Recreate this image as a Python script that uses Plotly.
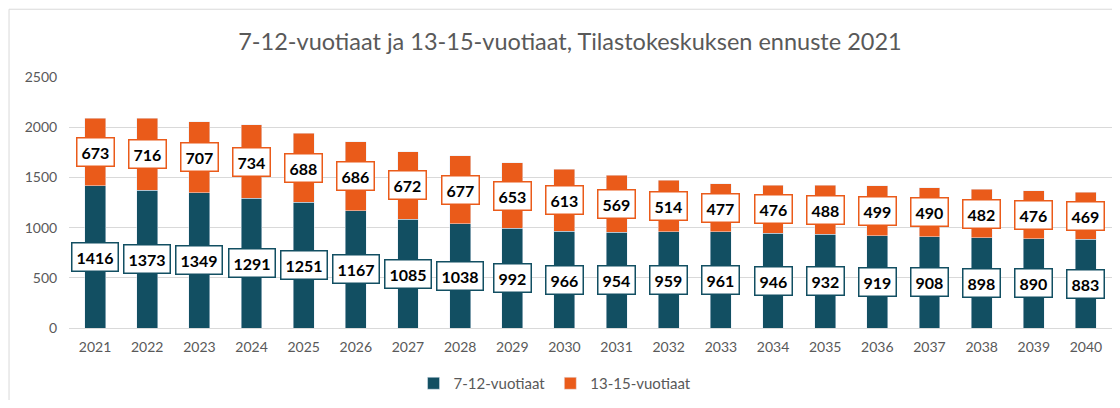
import plotly.graph_objects as go

years = list(range(2021, 2041))
kids_7_12 = [1416, 1373, 1349, 1291, 1251, 1167, 1085, 1038, 992, 966, 954, 959, 961, 946, 932, 919, 908, 898, 890, 883]
kids_13_15 = [673, 716, 707, 734, 688, 686, 672, 677, 653, 613, 569, 514, 477, 476, 488, 499, 490, 482, 476, 469]

teal = "#124F62"
orange = "#EA5B1A"
font_family = "Lato, Carlito, 'Open Sans', sans-serif"

fig = go.Figure()
fig.add_bar(x=years, y=kids_7_12, name="7-12-vuotiaat", marker_color=teal, width=0.4)
fig.add_bar(x=years, y=kids_13_15, name="13-15-vuotiaat", marker_color=orange, width=0.4)

for x, a, b in zip(years, kids_7_12, kids_13_15):
    fig.add_annotation(x=x, y=a / 2, text=f"<b>{a}</b>", showarrow=False,
                       font=dict(size=16, color="black", family=font_family),
                       bgcolor="white", bordercolor=teal, borderwidth=1.5, borderpad=4)
    fig.add_annotation(x=x, y=a + b / 2, text=f"<b>{b}</b>", showarrow=False,
                       font=dict(size=16, color="black", family=font_family),
                       bgcolor="white", bordercolor=orange, borderwidth=1.5, borderpad=4)

fig.add_shape(type="rect", xref="paper", yref="paper", x0=-0.0575, x1=1.2, y0=-0.6, y1=1.27,
              line=dict(color="#D9D9D9", width=1), fillcolor="rgba(0,0,0,0)", layer="below")

fig.update_layout(
    barmode="stack",
    width=1104, height=392,
    margin=dict(l=61, r=0, t=69, b=71),
    paper_bgcolor="white", plot_bgcolor="white",
    title=dict(text="7-12-vuotiaat ja 13-15-vuotiaat, Tilastokeskuksen ennuste 2021",
               x=0.509, xanchor="center", y=0.913, yanchor="middle",
               font=dict(size=23.5, color="#595959", family=font_family)),
    font=dict(family=font_family, color="#595959", size=14),
    legend=dict(orientation="h", x=0.466, xanchor="center", y=-0.222, yanchor="middle",
                font=dict(size=15, color="#595959"), traceorder="normal", itemwidth=30),
)
fig.update_yaxes(range=[0, 2500], dtick=500, showgrid=True, gridcolor="#D9D9D9", gridwidth=1,
                 zeroline=False, showline=False, tickfont=dict(size=14, color="#595959"),
                 ticks="outside", ticklen=8, tickcolor="white")
fig.update_xaxes(type="linear", range=[years[0] - 0.5, years[-1] + 0.5], tickmode="array",
                 tickvals=years, ticktext=[str(y) for y in years],
                 showgrid=False, zeroline=False, showline=True, linecolor="#D9D9D9",
                 tickfont=dict(size=14, color="#595959"),
                 ticks="outside", ticklen=6, tickcolor="white")

fig.write_html("out.html")
